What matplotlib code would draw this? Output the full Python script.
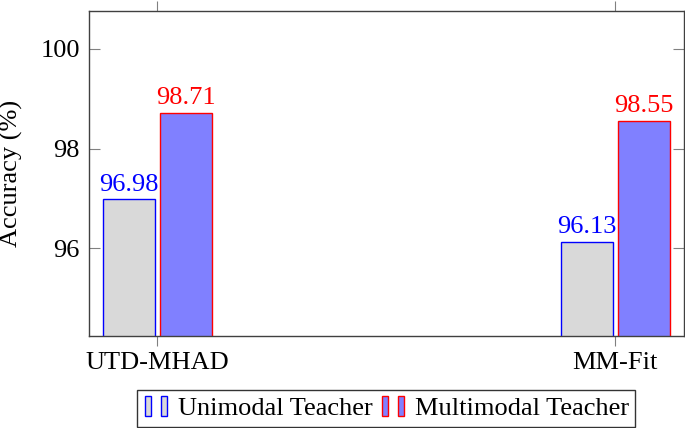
import matplotlib
matplotlib.use("Agg")
import matplotlib.pyplot as plt
from matplotlib.patches import Rectangle
from matplotlib.legend_handler import HandlerBase
import numpy as np

plt.rcParams['font.family'] = ['Liberation Serif', 'DejaVu Serif']
plt.rcParams['mathtext.fontset'] = 'stix'

categories = ["UTD-MHAD", "MM-Fit"]
unimodal = [96.98, 96.13]
multimodal = [98.71, 98.55]
series_names = ["Unimodal Teacher", "Multimodal Teacher"]
yticks = [96, 98, 100]

uni_fill = (0.85, 0.85, 0.85)
uni_edge = (0, 0, 1)
multi_fill = (0.5, 0.5, 1.0)
multi_edge = (1, 0, 0)

FS = 19

fig = plt.figure(figsize=(6.85, 4.28), dpi=100)
W, H = 685, 428
ax = fig.add_axes([88.7 / W, 1 - 336 / H, (684 - 88.7) / W, (336 - 11) / H])

x = np.arange(len(categories))
bw = 0.113
off = 0.062
ax.bar(x - off, unimodal, bw, color=uni_fill, edgecolor=uni_edge, linewidth=1.0)
ax.bar(x + off, multimodal, bw, color=multi_fill, edgecolor=multi_edge, linewidth=1.0)

for xi, v in zip(x - off, unimodal):
    ax.text(xi, v + 0.175, f"{v:.2f}", ha='center', va='baseline', color='blue', fontsize=FS)
for xi, v in zip(x + off, multimodal):
    ax.text(xi, v + 0.175, f"{v:.2f}", ha='center', va='baseline', color='red', fontsize=FS)

ax.set_xlim(-0.15, 1.15)
ax.set_ylim(94.24, 100.76)
ax.set_yticks(yticks)
ax.set_yticklabels([str(t) for t in yticks], fontsize=FS)
ax.set_xticks(x)
ax.set_xticklabels(categories, fontsize=FS)
ax.tick_params(axis='y', direction='in', length=8, color='0.5', left=True, right=True, pad=6.5)
ax.tick_params(axis='x', direction='out', length=7.2, color='0.5', top=True, bottom=True, pad=4)
for s in ax.spines.values():
    s.set_linewidth(1.0)
    s.set_color('0.25')
ax.set_ylabel("Accuracy (%)", fontsize=FS)
ax.yaxis.set_label_coords(-66 / (684 - 88.7), 0.5)


class TwoBarHandler(HandlerBase):
    def __init__(self, fill, edge):
        super().__init__()
        self.fill = fill
        self.edge = edge

    def create_artists(self, legend, orig_handle, xdescent, ydescent, width, height, fontsize, trans):
        arts = []
        bwid = width * 0.22
        hh = height * 1.05
        y0 = -ydescent + (height - hh) / 2
        for bx in (width * 0.05, width * 0.6):
            r = Rectangle((bx - xdescent, y0), bwid, hh, facecolor=self.fill,
                          edgecolor=self.edge, linewidth=1.0, transform=trans)
            arts.append(r)
        return arts


h1 = Rectangle((0, 0), 1, 1)
h2 = Rectangle((0, 0), 1, 1)
leg = fig.legend([h1, h2], series_names, loc='lower center', bbox_to_anchor=(386 / W, 1 / H),
                 ncol=2, fontsize=FS, frameon=True, fancybox=False, edgecolor='black',
                 handler_map={h1: TwoBarHandler(uni_fill, uni_edge), h2: TwoBarHandler(multi_fill, multi_edge)},
                 handlelength=1.1, handletextpad=0.2, columnspacing=0.3, borderpad=0.25,
                 borderaxespad=0)
leg.get_frame().set_linewidth(1.0)

fig.savefig("out.png", dpi=100)
